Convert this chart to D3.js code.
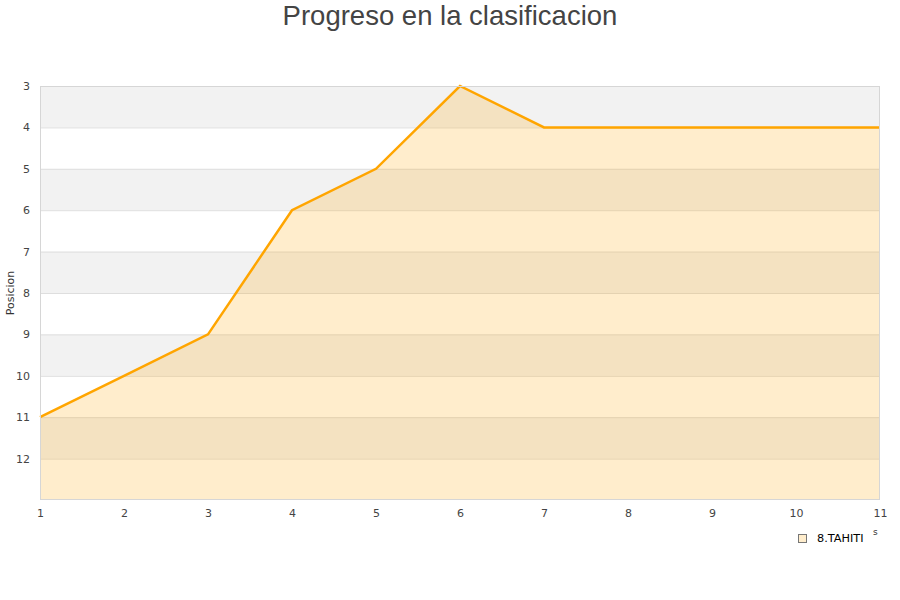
<!DOCTYPE html>
<html><head><meta charset="utf-8">
<script src="https://cdn.jsdelivr.net/npm/d3@7"></script>
<style>body{margin:0;background:#fff}svg{display:block}</style>
</head><body><svg id="c" width="900" height="600"></svg>
<script>
const rounds = [1,2,3,4,5,6,7,8,9,10,11];
const positions = [11,10,9,6,5,3,4,4,4,4,4];
const yTicks = [3,4,5,6,7,8,9,10,11,12];
const seriesName = "8.TAHITI";
const title = "Progreso en la clasificacion";
const yLabel = "Posicion";

const svg = d3.select("#c");
const L=40,R=880,T=86,B=500;
const x = d3.scaleLinear().domain([1,11]).range([L,R]);
const y = d3.scaleLinear().domain([3,13]).range([T,B]);

// bands
const bands = [3,5,7,9,11];
svg.append("g").selectAll("rect").data(bands).join("rect")
  .attr("x",L).attr("width",R-L).attr("y",d=>y(d)).attr("height",d=>y(d+1)-y(d))
  .attr("fill","#f2f2f2");
// grid
svg.append("g").selectAll("line").data(yTicks).join("line")
  .attr("x1",L).attr("x2",R).attr("y1",d=>y(d)+0.5).attr("y2",d=>y(d)+0.5)
  .attr("stroke","#dedede").attr("stroke-width",1);

const data = rounds.map((r,i)=>({r,p:positions[i]}));
svg.append("path").datum(data)
  .attr("d",d3.area().x(d=>x(d.r)).y0(y(13)).y1(d=>y(d.p)))
  .attr("fill","#ffa500").attr("fill-opacity",0.2);
svg.append("path").datum(data)
  .attr("d",d3.line().x(d=>x(d.r)).y(d=>y(d.p)))
  .attr("fill","none").attr("stroke","#ffa500").attr("stroke-width",2.5);

// frame
svg.append("rect").attr("x",L+0.5).attr("y",T+0.5).attr("width",R-L-1).attr("height",B-T-1)
  .attr("fill","none").attr("stroke","#d6d6d6");

// axes
const ya = svg.append("g").attr("transform",`translate(${L},0)`)
  .call(d3.axisLeft(y).tickValues(yTicks).tickSize(0).tickPadding(10).tickFormat(d3.format("d")));
ya.select(".domain").remove();
ya.selectAll("text").attr("font-family","DejaVu Sans").attr("font-size",11).attr("fill","#444");
const xa = svg.append("g").attr("transform",`translate(0,${B})`)
  .call(d3.axisBottom(x).tickValues(rounds).tickSize(0).tickPadding(9).tickFormat(d3.format("d")));
xa.select(".domain").remove();
xa.selectAll("text").attr("font-family","DejaVu Sans").attr("font-size",11).attr("fill","#444");

svg.append("text").attr("x",450).attr("y",25).attr("text-anchor","middle")
  .attr("font-family","Liberation Sans, Arial").attr("font-size",27.5).attr("fill","#444").text(title);
svg.append("text").attr("transform","translate(14,293) rotate(-90)").attr("text-anchor","middle")
  .attr("font-family","DejaVu Sans").attr("font-size",11).attr("fill","#333").text(yLabel);

// legend
svg.append("rect").attr("x",798.5).attr("y",534.5).attr("width",8).attr("height",8)
  .attr("fill","#ffedcc").attr("stroke","#777");
svg.append("text").attr("x",817).attr("y",542).attr("font-family","DejaVu Sans").attr("font-size",11.3)
  .attr("fill","#000").text(seriesName);
svg.append("text").attr("x",873).attr("y",535).attr("font-family","DejaVu Sans").attr("font-size",9)
  .attr("fill","#333").text("s");
</script></body></html>
